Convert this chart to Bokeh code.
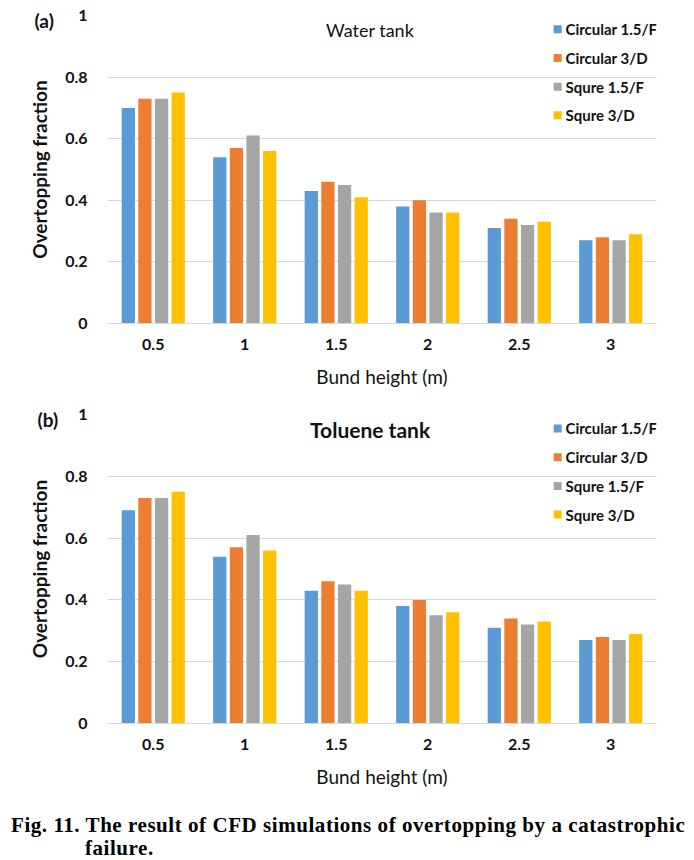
from bokeh.plotting import figure
from bokeh.models import Range1d, FactorRange, Label, Div, FixedTicker, ColumnDataSource, Title
from bokeh.transform import dodge
from bokeh.layouts import column
from bokeh.core.properties import value
from bokeh.embed import file_html
from bokeh.resources import INLINE

# ---------------- data ----------------
heights = ["0.5", "1", "1.5", "2", "2.5", "3"]
series = ["Circular 1.5/F", "Circular 3/D", "Squre 1.5/F", "Squre 3/D"]
colors = ["#5B9BD5", "#ED7D31", "#A5A5A5", "#FFC000"]

water_circ_15f = [0.70, 0.54, 0.43, 0.38, 0.31, 0.27]
water_circ_3d = [0.73, 0.57, 0.46, 0.40, 0.34, 0.28]
water_squ_15f = [0.73, 0.61, 0.45, 0.36, 0.32, 0.27]
water_squ_3d = [0.75, 0.56, 0.41, 0.36, 0.33, 0.29]

tol_circ_15f = [0.69, 0.54, 0.43, 0.38, 0.31, 0.27]
tol_circ_3d = [0.73, 0.57, 0.46, 0.40, 0.34, 0.28]
tol_squ_15f = [0.73, 0.61, 0.45, 0.35, 0.32, 0.27]
tol_squ_3d = [0.75, 0.56, 0.43, 0.36, 0.33, 0.29]

y_ticks = [0, 0.2, 0.4, 0.6, 0.8, 1.0]
y_tick_labels = ["0", "0.2", "0.4", "0.6", "0.8", "1"]

x_title = "Bund height (m)"
y_title = "Overtopping fraction"
caption_line1 = "Fig. 11. The result of CFD simulations of overtopping by a catastrophic"
caption_line2 = "failure."

FONT = "Lato"
GRID = "#D9D9D9"
BAR_W = 0.145
OFFSETS = [-0.2727, -0.0909, 0.0909, 0.2727]


def make_tag(text, left):
    kw = dict(text=text, align="left", offset=34 - left, vertical_align="bottom",
              text_font=FONT, text_font_style="bold", text_font_size="19px",
              text_color="#111111")
    try:
        return Title(standoff=-32, **kw)
    except Exception:
        return Title(standoff=0, **kw)


def make_panel(tag, title, title_bold, title_size, vals, left, top, bottom, frame_h):
    p = figure(x_range=FactorRange(*heights, range_padding=0), y_range=Range1d(0, 1),
               frame_width=549, frame_height=frame_h,
               min_border_left=left, min_border_right=30,
               min_border_top=top, min_border_bottom=bottom,
               output_backend="svg", toolbar_location=None,
               background_fill_color="white", border_fill_color="white")
    p.outline_line_color = None
    p.xgrid.grid_line_color = None
    p.ygrid.grid_line_color = GRID
    p.ygrid.grid_line_width = 1

    src = ColumnDataSource(dict(h=heights, s0=vals[0], s1=vals[1], s2=vals[2], s3=vals[3]))
    for i in range(4):
        p.vbar(x=dodge("h", OFFSETS[i], range=p.x_range), top="s%d" % i, width=BAR_W,
               source=src, fill_color=colors[i], line_color=None)

    # y axis
    p.yaxis.ticker = FixedTicker(ticks=y_ticks)
    p.yaxis.major_label_overrides = {t: l for t, l in zip(y_ticks, y_tick_labels)}
    p.yaxis.axis_line_color = None
    p.yaxis.major_tick_line_color = None
    p.yaxis.minor_tick_line_color = None
    p.yaxis.major_label_text_font = FONT
    p.yaxis.major_label_text_font_style = "bold"
    p.yaxis.major_label_text_font_size = "16px"
    p.yaxis.major_label_text_color = "#111111"
    p.yaxis.major_label_standoff = 14
    p.yaxis.axis_label = y_title
    p.yaxis.axis_label_text_font = FONT
    p.yaxis.axis_label_text_font_style = "bold"
    p.yaxis.axis_label_text_font_size = "19px"
    p.yaxis.axis_label_text_color = "#111111"
    p.yaxis.axis_label_standoff = 11

    # x axis
    p.xaxis.axis_line_color = GRID
    p.xaxis.major_tick_line_color = None
    p.xaxis.minor_tick_line_color = None
    p.xaxis.major_label_text_font = FONT
    p.xaxis.major_label_text_font_style = "bold"
    p.xaxis.major_label_text_font_size = "16px"
    p.xaxis.major_label_text_color = "#111111"
    p.xaxis.major_label_standoff = 9
    p.xaxis.axis_label = x_title
    p.xaxis.axis_label_text_font = FONT
    p.xaxis.axis_label_text_font_style = "normal"
    p.xaxis.axis_label_text_font_size = "19px"
    p.xaxis.axis_label_text_color = "#111111"
    p.xaxis.axis_label_standoff = 12

    # panel tag (left of the plot area, in a side panel so it is not clipped)
    p.add_layout(make_tag(tag, left), "above")
    # chart title inside the plot area
    p.add_layout(Label(x=2.87, y=0.953, text=title, text_align="center", text_baseline="middle",
                       text_font=FONT, text_font_style="bold" if title_bold else "normal",
                       text_font_size=title_size, text_color="#111111"))

    # legend (drawn at top right inside the plot area)
    leg_top, leg_step = 0.955, 0.093
    leg = ColumnDataSource(dict(
        xs=[4.92] * 4, xt=[5.005] * 4,
        y=[leg_top - i * leg_step for i in range(4)],
        name=series, color=colors))
    p.scatter(x="xs", y="y", source=leg, marker="square", size=8,
              fill_color="color", line_color=None)
    p.text(x="xt", y="y", text="name", source=leg, text_baseline="middle",
           text_font=value(FONT), text_font_style="bold", text_font_size="15px",
           text_color="#111111")
    return p


p1 = make_panel("(a)", "Water tank", False, "18px",
                [water_circ_15f, water_circ_3d, water_squ_15f, water_squ_3d],
                left=107, top=15, bottom=72, frame_h=308)
p2 = make_panel("(b)", "Toluene tank", True, "21px",
                [tol_circ_15f, tol_circ_3d, tol_squ_15f, tol_squ_3d],
                left=104, top=19, bottom=69, frame_h=309)

cap = Div(text=(
    '<div style="font-family:\'Liberation Serif\',serif;font-weight:bold;font-size:21px;'
    'letter-spacing:0.55px;line-height:23px;padding-top:17px;padding-left:6px;'
    'white-space:nowrap;color:#000;">'
    + caption_line1 + '<br><span style="padding-left:74px">' + caption_line2 + '</span></div>'),
    width=694, height=68)

layout = column(p1, p2, cap, spacing=0)
open("out.html", "w").write(file_html(layout, INLINE))
